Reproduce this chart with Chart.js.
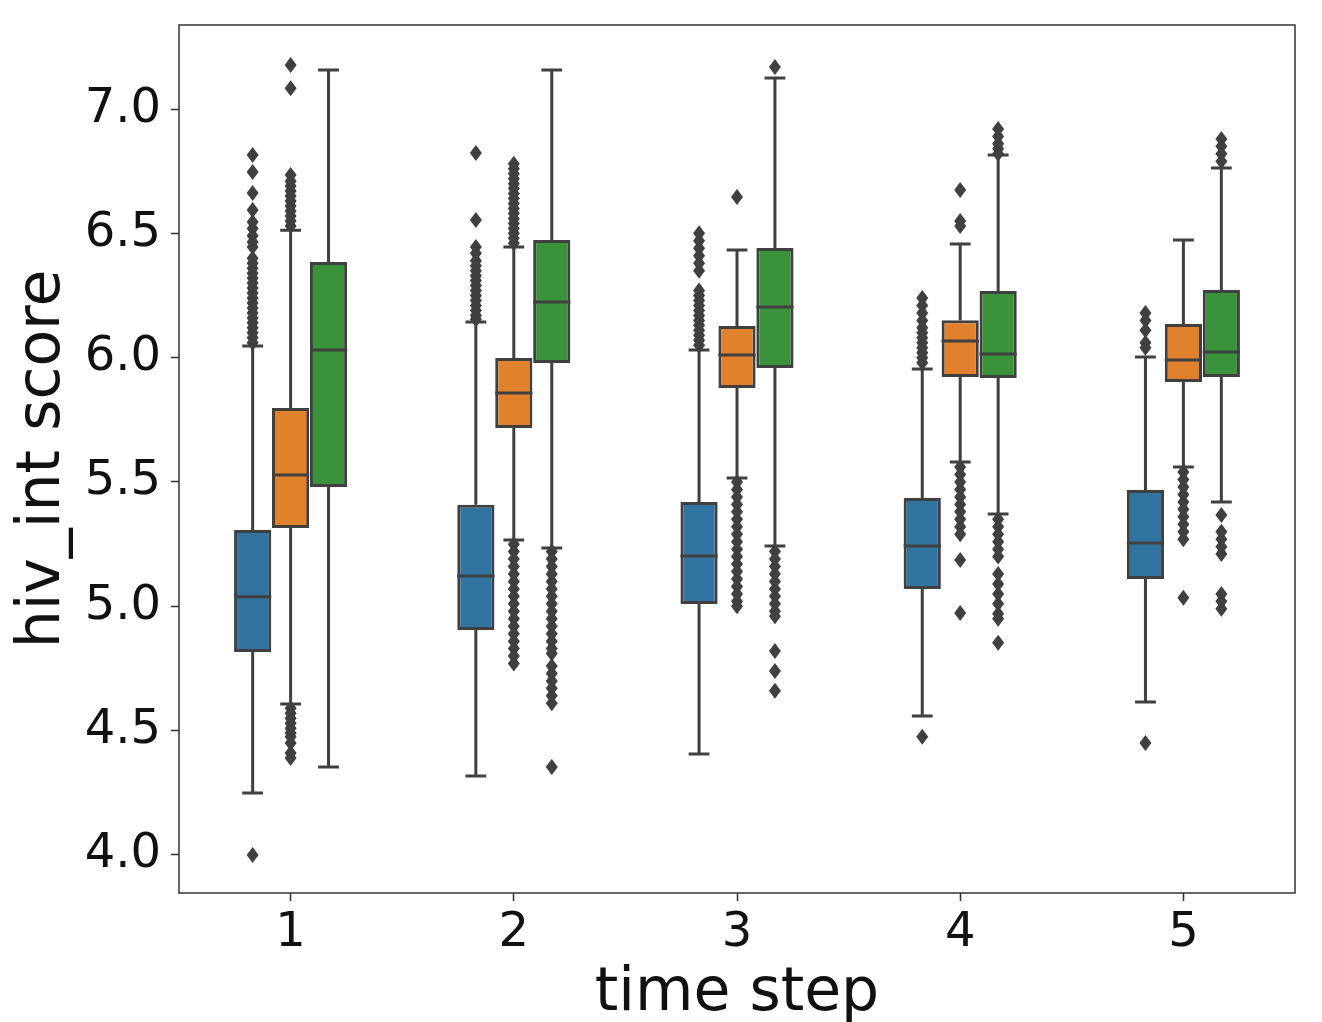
<!DOCTYPE html>
<html>
<head>
<meta charset="utf-8">
<script src="https://cdn.jsdelivr.net/npm/chart.js@4"></script>
<style>
  body { margin: 0; background: #fff; }
  #wrap { width: 1322px; height: 1022px; }
</style>
</head>
<body>
<div id="wrap"><canvas id="boxChart" width="1322" height="1022"></canvas></div>
<script>
const timeSteps = ['1', '2', '3', '4', '5'];
const yTicks = [4.0, 4.5, 5.0, 5.5, 6.0, 6.5, 7.0];

// BLUE
const blueQ1 = [4.816, 4.905, 5.009, 5.070, 5.110];
const blueMed = [5.038, 5.122, 5.202, 5.243, 5.255];
const blueQ3 = [5.307, 5.408, 5.420, 5.436, 5.468];
const blueLo = [4.249, 4.318, 4.406, 4.559, 4.615];
const blueHi = [6.047, 6.143, 6.031, 5.954, 6.003];
const blueOut = [
  [6.815, 6.747, 6.662, 6.594, 6.546, 6.52, 6.49, 6.465, 6.445, 6.40, 6.38, 6.36, 6.34, 6.32, 6.30, 6.28, 6.26, 6.24, 6.22, 6.20, 6.18, 6.16, 6.14, 6.12, 6.10, 6.08, 6.06, 4.00],
  [6.823, 6.554, 6.445, 6.42, 6.39, 6.37, 6.35, 6.33, 6.31, 6.29, 6.27, 6.25, 6.23, 6.21, 6.19, 6.17, 6.155],
  [6.50, 6.47, 6.44, 6.41, 6.38, 6.35, 6.27, 6.25, 6.23, 6.21, 6.19, 6.17, 6.15, 6.13, 6.11, 6.09, 6.07, 6.05],
  [6.24, 6.21, 6.18, 6.15, 6.12, 6.10, 6.08, 6.06, 6.04, 6.02, 6.00, 5.98, 4.475],
  [6.18, 6.15, 6.11, 6.06, 6.04, 4.45]
];

// ORANGE
const orangeQ1 = [5.315, 5.717, 5.878, 5.922, 5.902];
const orangeMed = [5.528, 5.858, 6.011, 6.067, 5.991];
const orangeQ3 = [5.798, 5.999, 6.127, 6.151, 6.135];
const orangeLo = [4.607, 5.267, 5.516, 5.580, 5.560];
const orangeHi = [6.513, 6.445, 6.433, 6.457, 6.473];
const orangeOut = [
  [7.177, 7.084, 6.735, 6.71, 6.69, 6.67, 6.65, 6.63, 6.61, 6.59, 6.57, 6.55, 6.53, 4.59, 4.57, 4.55, 4.53, 4.51, 4.49, 4.475, 4.45, 4.41, 4.39],
  [6.78, 6.76, 6.74, 6.72, 6.70, 6.68, 6.66, 6.64, 6.62, 6.60, 6.58, 6.56, 6.54, 6.52, 6.50, 6.48, 6.46,
   5.25, 5.22, 5.19, 5.16, 5.13, 5.10, 5.07, 5.04, 5.01, 4.98, 4.95, 4.92, 4.89, 4.86, 4.83, 4.80, 4.77],
  [6.646, 5.50, 5.47, 5.44, 5.41, 5.38, 5.35, 5.32, 5.29, 5.26, 5.23, 5.20, 5.17, 5.14, 5.11, 5.08, 5.05, 5.02, 5.00],
  [6.674, 6.55, 6.53, 5.56, 5.53, 5.50, 5.47, 5.44, 5.41, 5.38, 5.35, 5.32, 5.29, 5.186, 4.973],
  [5.54, 5.51, 5.48, 5.45, 5.42, 5.39, 5.36, 5.33, 5.30, 5.27, 5.034]
];

// GREEN
const greenQ1 = [5.480, 5.979, 5.958, 5.918, 5.922];
const greenMed = [6.031, 6.224, 6.204, 6.015, 6.023];
const greenQ3 = [6.385, 6.473, 6.441, 6.268, 6.272];
const greenLo = [4.354, 5.235, 5.243, 5.371, 5.420];
const greenHi = [7.157, 7.157, 7.125, 6.815, 6.763];
const greenOut = [
  [],
  [5.22, 5.19, 5.16, 5.13, 5.10, 5.07, 5.04, 5.01, 4.98, 4.95, 4.92, 4.89, 4.86, 4.83, 4.81, 4.76, 4.73, 4.70, 4.67, 4.64, 4.61, 4.354],
  [7.169, 5.22, 5.19, 5.16, 5.13, 5.10, 5.07, 5.04, 5.01, 4.98, 4.96, 4.82, 4.74, 4.66],
  [6.92, 6.89, 6.86, 6.84, 6.82, 5.35, 5.32, 5.29, 5.26, 5.23, 5.20, 5.13, 5.09, 5.05, 5.01, 4.97, 4.95, 4.853],
  [6.88, 6.85, 6.82, 6.79, 5.367, 5.30, 5.27, 5.24, 5.21, 5.05, 5.02, 4.99]
];

const lineGray = '#404040';
const fontFamily = "'DejaVu Sans', sans-serif";

const boxStats = [
  { med: blueMed, lo: blueLo, hi: blueHi, out: blueOut },
  { med: orangeMed, lo: orangeLo, hi: orangeHi, out: orangeOut },
  { med: greenMed, lo: greenLo, hi: greenHi, out: greenOut }
];

// whiskers, caps, medians and outlier diamonds on top of the floating bars
const whiskerPlugin = {
  id: 'whiskers',
  afterDatasetsDraw(chart) {
    const ctx = chart.ctx;
    const yScale = chart.scales.y;
    const area = chart.chartArea;
    ctx.save();
    ctx.beginPath();
    ctx.rect(area.left, area.top, area.right - area.left, area.bottom - area.top);
    ctx.clip();
    boxStats.forEach((stat, d) => {
      const meta = chart.getDatasetMeta(d);
      meta.data.forEach((bar, i) => {
        const x = bar.x;
        const w = bar.width;
        const raw = chart.data.datasets[d].data[i];
        const yQ1 = yScale.getPixelForValue(raw[0]);
        const yQ3 = yScale.getPixelForValue(raw[1]);
        const yLo = yScale.getPixelForValue(stat.lo[i]);
        const yHi = yScale.getPixelForValue(stat.hi[i]);
        const yMed = yScale.getPixelForValue(stat.med[i]);
        ctx.strokeStyle = lineGray;
        ctx.lineWidth = 3;
        ctx.beginPath();
        ctx.moveTo(x, yQ3); ctx.lineTo(x, yHi);
        ctx.moveTo(x, yQ1); ctx.lineTo(x, yLo);
        ctx.moveTo(x - w * 0.28, yHi); ctx.lineTo(x + w * 0.28, yHi);
        ctx.moveTo(x - w * 0.28, yLo); ctx.lineTo(x + w * 0.28, yLo);
        ctx.moveTo(bar.x - w / 2, yMed); ctx.lineTo(bar.x + w / 2, yMed);
        ctx.stroke();
        ctx.fillStyle = lineGray;
        stat.out[i].forEach(v => {
          const py = yScale.getPixelForValue(v);
          ctx.beginPath();
          ctx.moveTo(x, py - 8);
          ctx.lineTo(x + 6, py);
          ctx.lineTo(x, py + 8);
          ctx.lineTo(x - 6, py);
          ctx.closePath();
          ctx.fill();
        });
      });
    });
    ctx.restore();
  },
  afterDraw(chart) {
    const ctx = chart.ctx;
    const a = chart.chartArea;
    ctx.save();
    ctx.strokeStyle = '#333';
    ctx.lineWidth = 1.5;
    ctx.strokeRect(a.left, a.top, a.right - a.left, a.bottom - a.top);
    ctx.restore();
  }
};

const makeBox = (q1, q3, color) => ({
  data: q1.map((v, i) => [v, q3[i]]),
  backgroundColor: color,
  borderColor: lineGray,
  borderWidth: 3,
  borderSkipped: false,
  categoryPercentage: 0.51,
  barPercentage: 0.98
});

var boxChart = new Chart(document.getElementById('boxChart').getContext('2d'), {
  type: 'bar',
  data: {
    labels: timeSteps,
    datasets: [
      makeBox(blueQ1, blueQ3, '#3274a1'),
      makeBox(orangeQ1, orangeQ3, '#e1812c'),
      makeBox(greenQ1, greenQ3, '#3a923a')
    ]
  },
  options: {
    responsive: false,
    animation: false,
    layout: {
      padding: { top: 25, right: 27, left: 0, bottom: 0 }
    },
    plugins: {
      legend: { display: false },
      tooltip: { enabled: false }
    },
    scales: {
      x: {
        afterFit: (scale) => {
          scale.height = 129;
          scale.paddingLeft = 0;
          scale.paddingRight = 0;
        },
        grid: {
          display: true,
          offset: false,
          drawOnChartArea: false,
          tickLength: 8,
          tickWidth: 1.5,
          color: '#333'
        },
        border: { display: false },
        ticks: {
          color: '#111',
          padding: 4,
          font: { family: fontFamily, size: 48 }
        },
        title: {
          display: true,
          text: 'time step',
          color: '#111',
          padding: { top: 0, bottom: -8 },
          font: { family: fontFamily, size: 60 }
        }
      },
      y: {
        min: 3.847,
        max: 7.338,
        afterFit: (scale) => {
          scale.width = 179;
          scale.paddingTop = 0;
          scale.paddingBottom = 0;
        },
        afterBuildTicks: (scale) => { scale.ticks = yTicks.map(v => ({ value: v })); },
        grid: {
          display: true,
          drawOnChartArea: false,
          tickLength: 8,
          tickWidth: 1.5,
          color: '#333'
        },
        border: { display: false },
        ticks: {
          color: '#111',
          padding: 10,
          font: { family: fontFamily, size: 48 },
          callback: (v) => Number(v).toFixed(1)
        },
        title: {
          display: true,
          text: 'hiv_int score',
          color: '#111',
          padding: { top: 7, bottom: 0 },
          font: { family: fontFamily, size: 60 }
        }
      }
    }
  },
  plugins: [whiskerPlugin]
});
</script>
</body>
</html>
